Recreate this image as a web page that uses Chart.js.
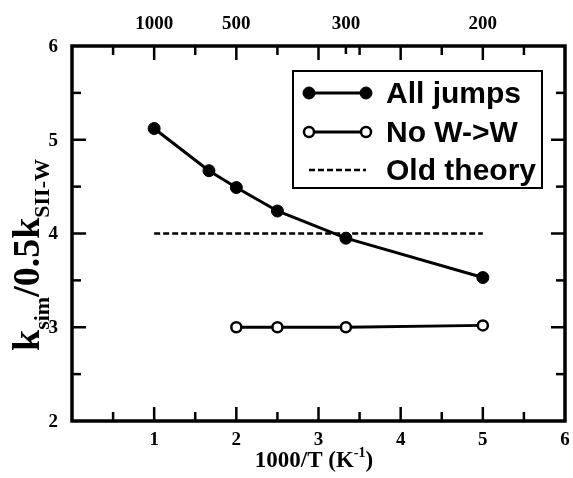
<!DOCTYPE html>
<html>
<head>
<meta charset="utf-8">
<script src="https://cdn.jsdelivr.net/npm/chart.js@4.4.1/dist/chart.umd.min.js"></script>
<style>
  body { margin: 0; background: #fff; }
  canvas { display: block; }
</style>
</head>
<body>
<canvas id="chart" width="573" height="478"></canvas>
<script>
// data (x axis is 1000/T, so temperatures are kept)
const allJumpsTemps = [1000, 600, 500, 400, 300, 200];
const allJumps = [5.12, 4.67, 4.49, 4.24, 3.95, 3.53];
const noWWTemps = [500, 400, 300, 200];
const noWW = [3.0, 3.0, 3.0, 3.02];
const oldTheoryTemps = [1000, 200];
const oldTheory = [4, 4];

const xTicks = [1, 2, 3, 4, 5, 6];
const yTicks = [2, 3, 4, 5, 6];
const topTicks = [1000, 500, 300, 200];

const toPoints = (temps, vals) => temps.map((t, i) => ({ x: 1000 / t, y: vals[i] }));

const serif = '"Liberation Serif", "Times New Roman", serif';
const sans = '"Liberation Sans", Arial, sans-serif';

// frame, ticks, labels, titles and legend
const decor = {
    id: "decor",
    afterDraw(chart) {
        const ctx = chart.ctx;
        const a = chart.chartArea;
        const xs = chart.scales.x;
        const ys = chart.scales.y;
        ctx.save();
        ctx.strokeStyle = "#000";
        ctx.fillStyle = "#000";

        // frame
        ctx.lineWidth = 3.5;
        ctx.strokeRect(a.left, a.top, a.right - a.left, a.bottom - a.top);

        // inward ticks
        ctx.lineWidth = 2.5;
        const tick = (x1, y1, x2, y2) => {
            ctx.beginPath();
            ctx.moveTo(x1, y1);
            ctx.lineTo(x2, y2);
            ctx.stroke();
        };
        for (let v = 0.5; v < 6; v += 0.5) {
            const len = Number.isInteger(v) ? 14 : 9;
            const px = xs.getPixelForValue(v);
            tick(px, a.bottom, px, a.bottom - len);
            tick(px, a.top, px, a.top + len);
        }
        const p300 = xs.getPixelForValue(1000 / 300);
        tick(p300, a.top, p300, a.top + 8);
        for (let v = 2.5; v < 6; v += 0.5) {
            const len = Number.isInteger(v) ? 14 : 9;
            const py = ys.getPixelForValue(v);
            tick(a.left, py, a.left + len, py);
            tick(a.right, py, a.right - len, py);
        }

        // tick labels
        ctx.font = "bold 19px " + serif;
        ctx.textAlign = "center";
        ctx.textBaseline = "top";
        xTicks.forEach(v => ctx.fillText(String(v), xs.getPixelForValue(v), a.bottom + 10));
        ctx.textBaseline = "alphabetic";
        topTicks.forEach(t => ctx.fillText(String(t), xs.getPixelForValue(1000 / t), a.top - 17));
        ctx.textAlign = "right";
        ctx.textBaseline = "middle";
        yTicks.forEach(v => ctx.fillText(String(v), a.left - 14, ys.getPixelForValue(v) + 1));

        // x title
        const big = "bold 23px " + serif;
        const sup = "bold 14px " + serif;
        ctx.textAlign = "left";
        ctx.textBaseline = "alphabetic";
        ctx.font = big;
        const w1 = ctx.measureText("1000/T (K").width;
        const w3 = ctx.measureText(")").width;
        ctx.font = sup;
        const w2 = ctx.measureText("-1").width;
        let x0 = 314 - (w1 + w2 + w3) / 2;
        const by = 467;
        ctx.font = big;
        ctx.fillText("1000/T (K", x0, by);
        ctx.font = sup;
        ctx.fillText("-1", x0 + w1, by - 10);
        ctx.font = big;
        ctx.fillText(")", x0 + w1 + w2, by);

        // y title, rotated, with subscripts
        const main = "bold 38px " + serif;
        const sub = "bold 22px " + serif;
        const parts = [["k", main, 0], ["sim", sub, 10], ["/0.5k", main, 0], ["SII-W", sub, 10]];
        let total = 0;
        parts.forEach(p => { ctx.font = p[1]; total += ctx.measureText(p[0]).width; });
        ctx.translate(39, 255);
        ctx.rotate(-Math.PI / 2);
        let u = -total / 2;
        parts.forEach(p => {
            ctx.font = p[1];
            ctx.fillText(p[0], u, p[2]);
            u += ctx.measureText(p[0]).width;
        });
        ctx.setTransform(1, 0, 0, 1, 0, 0);

        // legend
        ctx.lineWidth = 2;
        ctx.strokeRect(293, 71, 249, 117);
        const rows = [93, 132, 170];
        chart.data.datasets.forEach((ds, i) => {
            const y = rows[i];
            ctx.lineWidth = ds.borderWidth;
            ctx.setLineDash(ds.borderDash || []);
            tick(309, y, 366, y);
            ctx.setLineDash([]);
            if (ds.pointRadius > 0) {
                [309, 366].forEach(px => {
                    ctx.beginPath();
                    ctx.arc(px, y, ds.pointRadius, 0, Math.PI * 2);
                    ctx.fillStyle = ds.pointBackgroundColor;
                    ctx.fill();
                    ctx.lineWidth = ds.pointBorderWidth;
                    ctx.stroke();
                });
            }
            ctx.fillStyle = "#000";
            ctx.font = "bold 30px " + sans;
            ctx.textAlign = "left";
            ctx.textBaseline = "alphabetic";
            ctx.fillText(ds.label, 386, y + 10);
        });
        ctx.restore();
    }
};

new Chart(document.getElementById("chart"), {
    type: "scatter",
    data: {
        datasets: [
            {
                label: "All jumps",
                data: toPoints(allJumpsTemps, allJumps),
                showLine: true,
                borderColor: "#000",
                borderWidth: 3,
                pointRadius: 6,
                pointBackgroundColor: "#000",
                pointBorderColor: "#000",
                pointBorderWidth: 1
            },
            {
                label: "No W->W",
                data: toPoints(noWWTemps, noWW),
                showLine: true,
                borderColor: "#000",
                borderWidth: 3,
                pointRadius: 5,
                pointBackgroundColor: "#fff",
                pointBorderColor: "#000",
                pointBorderWidth: 2.5
            },
            {
                label: "Old theory",
                data: toPoints(oldTheoryTemps, oldTheory),
                showLine: true,
                borderColor: "#000",
                borderWidth: 2.3,
                borderDash: [6, 3],
                pointRadius: 0
            }
        ]
    },
    options: {
        responsive: false,
        animation: false,
        layout: { padding: { left: 72, top: 46, right: 8, bottom: 57 } },
        scales: {
            x: { type: "linear", min: 0, max: 6, display: false },
            y: { type: "linear", min: 2, max: 6, display: false }
        },
        plugins: {
            legend: { display: false },
            tooltip: { enabled: false }
        }
    },
    plugins: [decor]
});
</script>
</body>
</html>
